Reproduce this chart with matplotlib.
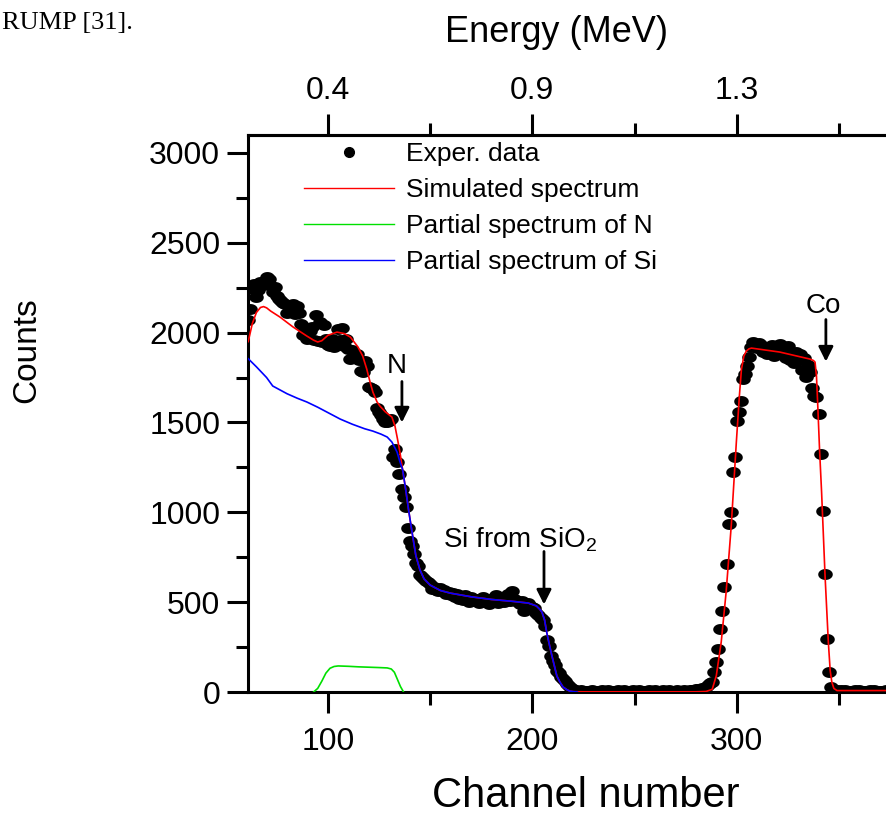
import numpy as np
import matplotlib
matplotlib.use("Agg")
import matplotlib.pyplot as plt
from matplotlib.path import Path
from matplotlib.lines import Line2D

plt.rcParams["font.family"] = ["Liberation Sans", "DejaVu Sans"]
plt.rcParams["mathtext.fontset"] = "custom"
plt.rcParams["mathtext.rm"] = "Liberation Sans"

# ---- measured RBS spectrum (counts per channel, channels 61..373) ----
channels = np.arange(61, 374)
exper_counts = [
    2070, 2130, 2245, 2270, 2200, 2235, 2280, 2265, 2285, 2310,
    2300, 2260, 2225, 2255, 2205, 2185, 2175, 2165, 2160, 2110,
    2155, 2115, 2160, 2105, 2150, 2110, 2050, 1985, 2020, 1965,
    2010, 2030, 1960, 2100, 1955, 2060, 1950, 2040, 1965, 1930,
    1925, 1965, 1920, 1945, 2020, 1960, 2025, 1925, 1965, 1910,
    1855, 1905, 1865, 1880, 1845, 1785, 1780, 1840, 1815, 1700,
    1690, 1685, 1670, 1580, 1560, 1540, 1520, 1505, 1500, 1510,
    1520, 1310, 1350, 1280, 1215, 1130, 1085, 1030, 910, 840,
    810, 770, 720, 700, 650, 640, 630, 615, 610, 600,
    575, 585, 570, 560, 580, 560, 570, 545, 555, 540,
    550, 530, 545, 520, 535, 510, 540, 525, 500, 530,
    515, 505, 520, 495, 510, 530, 500, 515, 490, 520,
    505, 540, 495, 510, 525, 500, 515, 545, 505, 560,
    520, 510, 500, 490, 505, 450, 470, 495, 480, 475,
    470, 440, 430, 410, 400, 370, 290, 255, 200, 170,
    150, 115, 105, 85, 70, 60, 45, 33, 25, 18,
    12, 8, 5, 10, 6, 4, 8, 5, 10, 6,
    5, 8, 4, 9, 6, 5, 10, 7, 4, 8,
    6, 9, 5, 7, 10, 4, 8, 6, 9, 5,
    7, 10, 6, 4, 8, 5, 9, 7, 6, 10,
    5, 8, 6, 9, 4, 7, 10, 6, 8, 5,
    9, 6, 7, 10, 5, 8, 12, 9, 11, 14,
    15, 18, 22, 20, 30, 40, 48, 54, 111, 167,
    240, 350, 452, 584, 712, 935, 1000, 1224, 1308, 1508,
    1558, 1619, 1742, 1770, 1814, 1864, 1920, 1948, 1935, 1915,
    1945, 1930, 1895, 1920, 1880, 1905, 1930, 1870, 1910, 1890,
    1935, 1880, 1900, 1860, 1925, 1850, 1880, 1830, 1895, 1845,
    1880, 1790, 1860, 1755, 1820, 1780, 1690, 1650, 1640, 1550,
    1325, 1005, 655, 295, 110, 28, 10, 8, 12, 6,
    9, 5, 10, 7, 4, 8, 6, 10, 5, 9,
    7, 4, 8, 6, 10, 5, 9, 6, 7, 5,
    8, 6, 9,
]

# ---- simulated spectrum (RUMP) ----
sim_channels = [
    61, 63, 65, 67, 68.5, 70, 72, 76.5, 83, 89.7, 93, 95, 97, 100, 104.4,
    108, 111, 114.7, 117, 119, 120.5, 122, 124, 125.4, 128, 131.3, 132.8,
    134, 135.2, 136.5, 138, 139.5, 141, 143, 145, 147, 150, 155, 160, 170,
    180, 190, 198, 202, 203.5, 204.7, 206, 207, 208.3, 209.6, 211, 212,
    213.5, 215, 217, 218.4, 220, 225, 280, 285, 288, 290, 292.4, 294.8,
    297.3, 299.8, 301.3, 302.3, 303.5, 304.7, 306, 307.2, 321, 335.8,
    337.5, 338.3, 339, 339.7, 340.5, 341.5, 343.2, 344.8, 345.7, 346.5,
    347.5, 349, 373.5,
]
sim_counts = [
    1950, 2050, 2112, 2140, 2145, 2138, 2120, 2087, 2031, 1981, 1958, 1948,
    1955, 1985, 2003, 1995, 1975, 1920, 1870, 1797, 1730, 1669, 1615, 1592,
    1560, 1530, 1480, 1410, 1336, 1240, 1130, 1010, 900, 760, 680, 630,
    595, 565, 550, 530, 515, 505, 495, 479, 462, 445, 400, 334, 265, 200,
    135, 89, 55, 28, 12, 5, 2, 1, 1, 3, 15, 91, 278, 556, 924, 1391, 1650,
    1797, 1870, 1898, 1910, 1914, 1892, 1853, 1845, 1836, 1758, 1575, 1350,
    1113, 646, 278, 120, 56, 20, 8, 8,
]

# ---- partial spectrum of N ----
n_channels = [93, 95, 97, 99, 101, 103, 105, 110, 115, 120, 125, 129, 131,
              132.5, 134, 135.5, 137]
n_counts = [0, 20, 60, 105, 132, 142, 145, 143, 140, 138, 136, 134, 128,
            110, 70, 30, 0]

# ---- partial spectrum of Si ----
si_channels = [
    61, 65, 70, 73, 80, 85, 89.7, 95, 100, 106, 112, 118, 122, 126, 129,
    131.3, 132.5, 133.8, 135, 136, 136.5, 138, 139.5, 141, 143, 145, 147,
    150, 155, 160, 170, 180, 190, 198, 202, 203.5, 204.7, 206, 207, 208.3,
    209.6, 211, 212, 213.5, 215, 217, 218.4, 220, 222,
]
si_counts = [
    1855, 1810, 1750, 1703, 1660, 1635, 1614, 1585, 1555, 1519, 1490, 1465,
    1452, 1435, 1419, 1391, 1365, 1336, 1290, 1255, 1240, 1130, 1010, 900,
    760, 680, 630, 595, 565, 550, 530, 515, 505, 495, 479, 462, 445, 400,
    334, 265, 200, 135, 89, 55, 28, 12, 5, 2, 0,
]

# ---- axis ticks ----
count_ticks = [0, 500, 1000, 1500, 2000, 2500, 3000]
channel_ticks = [100, 200, 300]
energy_labels = ["0.4", "0.9", "1.3"]

W, H = 887, 815
fig = plt.figure(figsize=(W / 100, H / 100), dpi=100)
ax_l, ax_r, ax_b, ax_t = 248, 887, 692, 135
ax = fig.add_axes([ax_l / W, 1 - ax_b / H, (ax_r - ax_l) / W, (ax_b - ax_t) / H])
ax.set_xlim(60.9, 373.5)
ax.set_ylim(0, 3100)

# elliptical dot marker
th = np.linspace(0, 2 * np.pi, 40)
ellipse = Path(np.column_stack([np.cos(th), 0.75 * np.sin(th)]), closed=True)

ax.plot(channels, exper_counts, linestyle="none", marker=ellipse,
        markersize=10.5, color="black", markeredgewidth=0, zorder=2)
ax.plot(sim_channels, sim_counts, color="#ff0000", lw=1.2, zorder=3)
ax.plot(n_channels, n_counts, color="#00e000", lw=1.2, zorder=3)
ax.plot(si_channels, si_counts, color="#0000ff", lw=1.2, zorder=4)

# axes styling
for side in ("left", "bottom", "top"):
    ax.spines[side].set_linewidth(2.2)
ax.spines["right"].set_visible(False)

ax.set_yticks(count_ticks)
ax.set_yticklabels([str(v) for v in count_ticks])
ax.set_yticks(np.arange(250, 3100, 500), minor=True)
ax.set_xticks(channel_ticks)
ax.set_xticklabels([str(v) for v in channel_ticks])
ax.set_xticks([150, 250, 350], minor=True)
ax.tick_params(axis="both", which="major", direction="out", length=15,
               width=2.2, labelsize=23)
ax.tick_params(axis="both", which="minor", direction="out", length=9,
               width=2.2)
ax.tick_params(axis="y", which="major", pad=5)
ax.tick_params(axis="x", which="major", pad=10)

top = ax.secondary_xaxis("top")
top.set_xticks(channel_ticks, labels=energy_labels)
top.set_xticks([150, 250, 350], minor=True)
top.tick_params(axis="x", which="major", direction="out", length=15,
                width=2.2, labelsize=23, pad=6)
top.tick_params(axis="x", which="minor", direction="out", length=9, width=2.2)
top.spines["top"].set_linewidth(2.2)

# axis titles, positioned in figure pixels
def fig_xy(px, py):
    return px / W, 1 - py / H

ax.set_xlabel("Channel number", fontsize=30, va="center")
ax.xaxis.set_label_coords(*fig_xy(586, 796), transform=fig.transFigure)
ax.set_ylabel("Counts", fontsize=24, va="center")
ax.yaxis.set_label_coords(*fig_xy(27, 350), transform=fig.transFigure)
top.set_xlabel("Energy (MeV)", fontsize=26, va="center")
top.xaxis.set_label_coords(*fig_xy(557, 32), transform=fig.transFigure)

# legend
handles = [
    Line2D([], [], linestyle="none", marker="o", markersize=7, color="black"),
    Line2D([], [], color="#ff0000", lw=1.0),
    Line2D([], [], color="#00e000", lw=1.0),
    Line2D([], [], color="#0000ff", lw=1.0),
]
labels = ["Exper. data", "Simulated spectrum", "Partial spectrum of N",
          "Partial spectrum of Si"]
ax.legend(handles, labels, loc="upper left", frameon=False, fontsize=19,
          handlelength=3.4, handletextpad=0.45, labelspacing=0.46,
          borderaxespad=0, borderpad=0,
          bbox_to_anchor=((304 - ax_l) / (ax_r - ax_l), (ax_b - 142) / (ax_b - ax_t)))

# element markers
arrow = dict(arrowstyle="-|>", color="black", lw=2.0, mutation_scale=22,
             shrinkA=0, shrinkB=0)
ax.annotate("", xy=(136.2, 1500), xytext=(136.2, 1728), arrowprops=arrow)
ax.text(133.8, 1817, "N", fontsize=20, ha="center", va="center")
ax.annotate("", xy=(205.7, 487), xytext=(205.7, 782), arrowprops=arrow)
ax.text(156.3, 804, r"Si from SiO$_2$", fontsize=20, ha="left", va="baseline")
ax.annotate("", xy=(343.6, 1839), xytext=(343.6, 2073), arrowprops=arrow)
ax.text(342.2, 2150, "Co", fontsize=20, ha="center", va="center")

fig.text(2 / W, 1 - 23 / H, "RUMP [31].", fontsize=19,
         family="Liberation Serif", ha="left", va="center")

fig.savefig("out.png", dpi=100)
